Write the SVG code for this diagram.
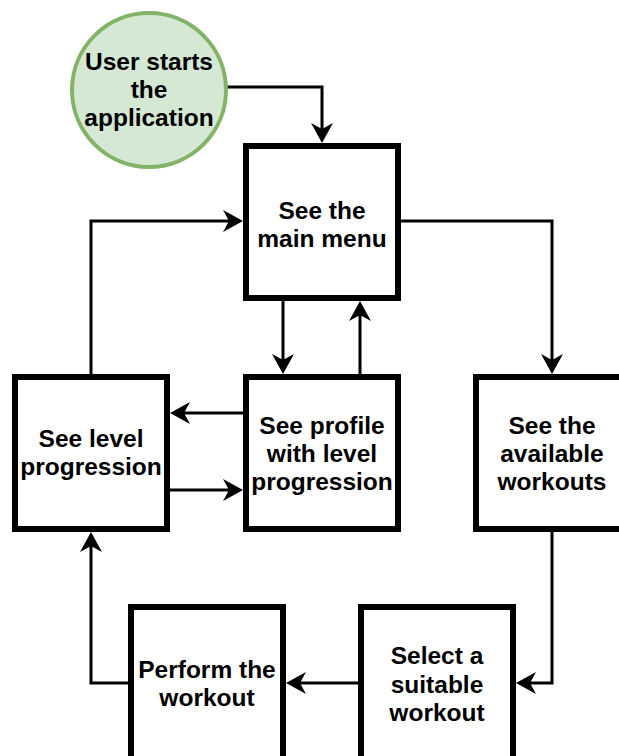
<svg xmlns="http://www.w3.org/2000/svg" width="619" height="756" viewBox="0 0 619 756">
  <style>
    .box { fill: #ffffff; stroke: #000000; stroke-width: 6; }
    .start { fill: #d5e8d4; stroke: #82b366; stroke-width: 4; }
    .lbl { font-family: "Liberation Sans", Arial, Helvetica, sans-serif; font-weight: bold; font-size: 24.5px; fill: #000000; text-anchor: middle; }
    .edge { fill: none; stroke: #000000; stroke-width: 3; marker-end: url(#arrow); }
  </style>
  <defs>
    <marker id="arrow" markerUnits="userSpaceOnUse" markerWidth="22" markerHeight="22" viewBox="0 0 20 22" refX="12" refY="11" orient="auto">
      <path d="M0,0 L20,11 L0,22 L6,11 Z" fill="#000000"/>
    </marker>
  </defs>
  <rect width="619" height="756" fill="#ffffff"/>

  <g id="connectors">
    <path class="edge" d="M226,87 H322 V135"/>
    <path class="edge" d="M91,374 V221 H235"/>
    <path class="edge" d="M401,221 H552 V366"/>
    <path class="edge" d="M283,301 V366"/>
    <path class="edge" d="M360,374 V309"/>
    <path class="edge" d="M243,413 H178"/>
    <path class="edge" d="M170,490 H235"/>
    <path class="edge" d="M552,532 V683 H524"/>
    <path class="edge" d="M358,683 H294"/>
    <path class="edge" d="M128,683 H91 V540"/>
  </g>

  <g id="start">
    <circle class="start" cx="149" cy="90" r="77"/>
    <text class="lbl" x="149" y="70">User starts</text>
    <text class="lbl" x="149" y="98">the</text>
    <text class="lbl" x="149" y="126">application</text>
  </g>

  <g id="main-menu">
    <rect class="box" x="246" y="146" width="152" height="152"/>
    <text class="lbl" x="322" y="219">See the</text>
    <text class="lbl" x="322" y="247">main menu</text>
  </g>

  <g id="level-progression">
    <rect class="box" x="15" y="377" width="152" height="152"/>
    <text class="lbl" x="91" y="447">See level</text>
    <text class="lbl" x="91" y="475">progression</text>
  </g>

  <g id="profile">
    <rect class="box" x="246" y="377" width="152" height="152"/>
    <text class="lbl" x="322" y="434">See profile</text>
    <text class="lbl" x="322" y="462">with level</text>
    <text class="lbl" x="322" y="490">progression</text>
  </g>

  <g id="available-workouts">
    <rect class="box" x="476" y="377" width="152" height="152"/>
    <text class="lbl" x="552" y="434">See the</text>
    <text class="lbl" x="552" y="462">available</text>
    <text class="lbl" x="552" y="490">workouts</text>
  </g>

  <g id="perform-workout">
    <rect class="box" x="131" y="607" width="152" height="152"/>
    <text class="lbl" x="207" y="678">Perform the</text>
    <text class="lbl" x="207" y="706">workout</text>
  </g>

  <g id="select-workout">
    <rect class="box" x="361" y="607" width="152" height="152"/>
    <text class="lbl" x="437" y="664">Select a</text>
    <text class="lbl" x="437" y="693">suitable</text>
    <text class="lbl" x="437" y="721">workout</text>
  </g>
</svg>
